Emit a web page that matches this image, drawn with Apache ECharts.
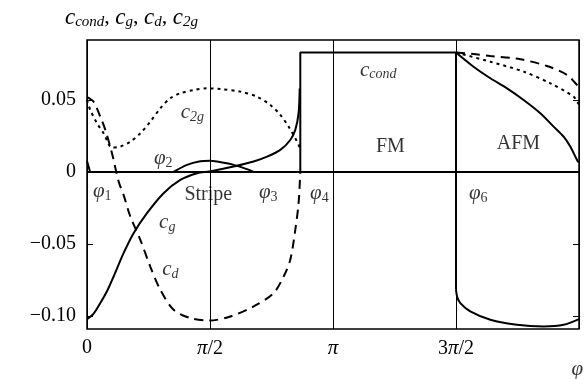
<!DOCTYPE html>
<html>
<head>
<meta charset="utf-8">
<script src="https://cdn.jsdelivr.net/npm/echarts@6/dist/echarts.min.js"></script>
<style>
  html, body { margin: 0; padding: 0; background: #fff; }
  #phase { width: 586px; height: 379px; }
</style>
</head>
<body>
<div id="phase"></div>
<script>
var PI = Math.PI;
var phi4 = 2.724;          // Stripe -> FM
var phi6 = 3 * PI / 2;     // FM -> AFM
var plateau = 0.083;

// x ticks: 0 .. 2pi step pi/2
var xTickLabels = ['0', '{i|π}/2', '{i|π}', '3{i|π}/2', ''];
var yTicks = [0.05, 0, -0.05, -0.10];
var yTickLabels = ['0.05', '0', '\u22120.05', '\u22120.10'];

// solid: c_cond
var cCondStart = [[0, 0.0075], [0.04, 0]];
var cCondHump = [[1.106, 0], [1.277, 0.0049], [1.447, 0.0074], [1.566, 0.0078], [1.660, 0.0072],
  [1.872, 0.0049], [2.043, 0.0019], [2.128, 0]];
var cCondFM = [[phi4, 0], [phi4, plateau], [phi6, plateau]];
var cCondAFM = [[phi6, plateau], [4.937, 0.0731], [5.151, 0.0651], [5.364, 0.0581], [5.576, 0.050],
  [5.789, 0.0408], [5.959, 0.0315], [6.087, 0.0245], [6.172, 0.0176], [6.258, 0.0083], [6.283, 0.0065]];

// solid: c_g
var cGStripe = [[0, -0.1023], [0.085, -0.0985], [0.170, -0.0912], [0.255, -0.0830], [0.340, -0.0727],
  [0.467, -0.0565], [0.595, -0.0426], [0.766, -0.0287], [0.978, -0.0148], [1.192, -0.0056],
  [1.405, -0.0009], [1.566, 0.0003], [1.872, 0.0037], [2.128, 0.0072], [2.299, 0.0106], [2.469, 0.0153],
  [2.596, 0.0222], [2.660, 0.0292], [2.702, 0.0408], [2.716, 0.058]];
var cGAFM = [[phi6, -0.082], [4.728, -0.0870], [4.768, -0.0912], [4.895, -0.0970], [5.151, -0.1028],
  [5.492, -0.1063], [5.831, -0.1074], [6.087, -0.1063], [6.283, -0.1023]];

// dashed: c_d
var cDStripe = [[0, 0.052], [0.084, 0.0488], [0.170, 0.0384], [0.234, 0.0292], [0.319, 0.013],
  [0.404, -0.0067], [0.467, -0.016], [0.553, -0.031], [0.681, -0.0472], [0.808, -0.0658],
  [0.936, -0.0819], [1.106, -0.0958], [1.319, -0.1016], [1.566, -0.1033], [1.830, -0.1005],
  [2.128, -0.0935], [2.383, -0.0842], [2.511, -0.0727], [2.596, -0.0611], [2.660, -0.0403],
  [2.702, -0.0217], [phi4, 0]];
var cDAFM = [[phi6, plateau], [4.937, 0.0819], [5.151, 0.0806], [5.534, 0.0783], [5.875, 0.0736],
  [6.130, 0.0674], [6.258, 0.0604], [6.283, 0.058]];

// dotted: c_2g
var c2gStripe = [[0, 0.050], [0.042, 0.043], [0.128, 0.0338], [0.212, 0.0269], [0.319, 0.0170],
  [0.425, 0.0176], [0.553, 0.021], [0.681, 0.0269], [0.808, 0.0349], [0.936, 0.0442], [1.064, 0.0512],
  [1.192, 0.0547], [1.361, 0.0569], [1.533, 0.0581], [1.702, 0.0576], [1.958, 0.0558], [2.171, 0.0523],
  [2.341, 0.0465], [2.469, 0.0396], [2.575, 0.0315], [2.660, 0.0234], [2.702, 0.0188], [phi4, 0.016]];
var c2gAFM = [[phi6, plateau], [5.151, 0.0766], [5.576, 0.0697], [5.917, 0.0616], [6.215, 0.0523],
  [6.258, 0.0488], [6.283, 0.047]];

// annotations (placed in data coordinates)
var noteText = ['{i|c}{s|cond}', '{i|c}{s|2g}', '{i|φ}{n|2}', '{i|φ}{n|1}', 'Stripe', '{i|φ}{n|3}',
  '{i|φ}{n|4}', '{i|φ}{n|6}', '{i|c}{s|g}', '{i|c}{s|d}', 'FM', 'AFM', '{i|φ}'];
var notePhi = [3.72, 1.345, 0.974, 0.195, 1.549, 2.314, 2.967, 4.997, 1.025, 1.064, 3.874, 5.509, 6.26];
var noteVal = [0.0708, 0.041, 0.009, -0.0139, -0.016, -0.0146, -0.0153, -0.0153, -0.0354, -0.068, 0.0174, 0.0194, -0.1375];

var FONT = '"Liberation Serif", "DejaVu Serif", serif';
var rich = {
  i: { fontFamily: FONT, fontSize: 21, fontStyle: 'italic', fontWeight: 'normal', color: '#000' },
  r: { fontFamily: FONT, fontSize: 20, fontWeight: 'normal', color: '#000' },
  s: { fontFamily: FONT, fontSize: 14, fontStyle: 'italic', fontWeight: 'normal', color: '#000', padding: [9, 0, 0, 0] },
  n: { fontFamily: FONT, fontSize: 14, fontWeight: 'normal', color: '#000', padding: [9, 0, 0, 0] }
};
var titleRich = {
  i: { fontFamily: FONT, fontSize: 23, fontStyle: 'italic', fontWeight: 'normal', color: '#000' },
  r: { fontFamily: FONT, fontSize: 22, fontWeight: 'normal', color: '#000' },
  s: { fontFamily: FONT, fontSize: 15, fontStyle: 'italic', fontWeight: 'normal', color: '#000', padding: [10, 0, 0, 0] }
};

function piece(name, data, type, smooth, z) {
  return {
    name: name, type: 'line', data: data, symbol: 'none', z: z, smooth: smooth,
    lineStyle: { color: '#000', width: 2, type: type, cap: 'butt' }
  };
}

var notes = noteText.map(function (t, k) {
  return { value: [notePhi[k], noteVal[k]], label: { formatter: t } };
});

var series = [
  piece('c_2g', c2gStripe, [3, 4], 0.3, 2),
  piece('c_2g', c2gAFM, [3, 4], 0.3, 2),
  piece('c_d', cDStripe, [9, 6], 0.3, 3),
  piece('c_d', cDAFM, [9, 6], 0.3, 3),
  piece('c_g', cGStripe, 'solid', 0.3, 4),
  piece('c_g', cGAFM, 'solid', 0.3, 4),
  piece('c_cond', cCondStart, 'solid', false, 5),
  piece('c_cond', cCondHump, 'solid', 0.3, 5),
  piece('c_cond', cCondFM, 'solid', false, 5),
  piece('c_cond', cCondAFM, 'solid', 0.3, 5),
  {
    type: 'scatter', data: notes, symbolSize: 0, clip: false, silent: true, z: 10,
    label: { show: true, position: 'inside', color: '#000', fontFamily: FONT, fontSize: 20, rich: rich }
  }
];
// zero line and phi6 boundary
series[8].markLine = {
  silent: true, symbol: 'none', animation: false, label: { show: false },
  lineStyle: { color: '#000', width: 2, type: 'solid' },
  data: [{ yAxis: 0 }, [{ coord: [phi6, plateau] }, { coord: [phi6, -0.082] }]]
};

var option = {
  animation: false,
  backgroundColor: '#fff',
  title: {
    text: '{i|c}{s|cond}{r|, }{i|c}{s|g}{r|, }{i|c}{s|d}{r|, }{i|c}{s|2g}',
    left: 60, top: 0,
    textStyle: { fontWeight: 'normal', rich: titleRich }
  },
  grid: { left: 87, right: 7, top: 40, bottom: 50, show: true, borderColor: '#000', borderWidth: 1.5 },
  xAxis: {
    type: 'value', min: 0, max: 2 * PI, interval: PI / 2,
    axisLine: { show: false }, axisTick: { show: false },
    splitLine: { show: true, lineStyle: { color: '#000', width: 1 } },
    axisLabel: {
      margin: 9, color: '#000', fontFamily: FONT, fontSize: 20,
      rich: { i: { fontFamily: FONT, fontSize: 21, fontStyle: 'italic', color: '#000' } },
      formatter: function (v) { return xTickLabels[Math.round(v / (PI / 2))]; }
    }
  },
  yAxis: [{
    type: 'value', min: -0.1092, max: 0.0917,
    axisLine: { show: false }, splitLine: { show: false },
    axisTick: { show: true, inside: true, length: 6, customValues: yTicks, lineStyle: { color: '#000' } },
    axisLabel: {
      customValues: yTicks, margin: 11, color: '#000', fontFamily: FONT, fontSize: 20,
      formatter: function (v) {
        var k = 0;
        for (var j = 0; j < yTicks.length; j++) if (Math.abs(yTicks[j] - v) < 1e-6) k = j;
        return yTickLabels[k];
      }
    }
  }, {
    type: 'value', min: -0.1092, max: 0.0917, position: 'right',
    axisLine: { show: false }, splitLine: { show: false }, axisLabel: { show: false },
    axisTick: { show: true, inside: true, length: 6, customValues: yTicks, lineStyle: { color: '#000' } }
  }],
  series: series
};

echarts.init(document.getElementById('phase')).setOption(option);
</script>
</body>
</html>
